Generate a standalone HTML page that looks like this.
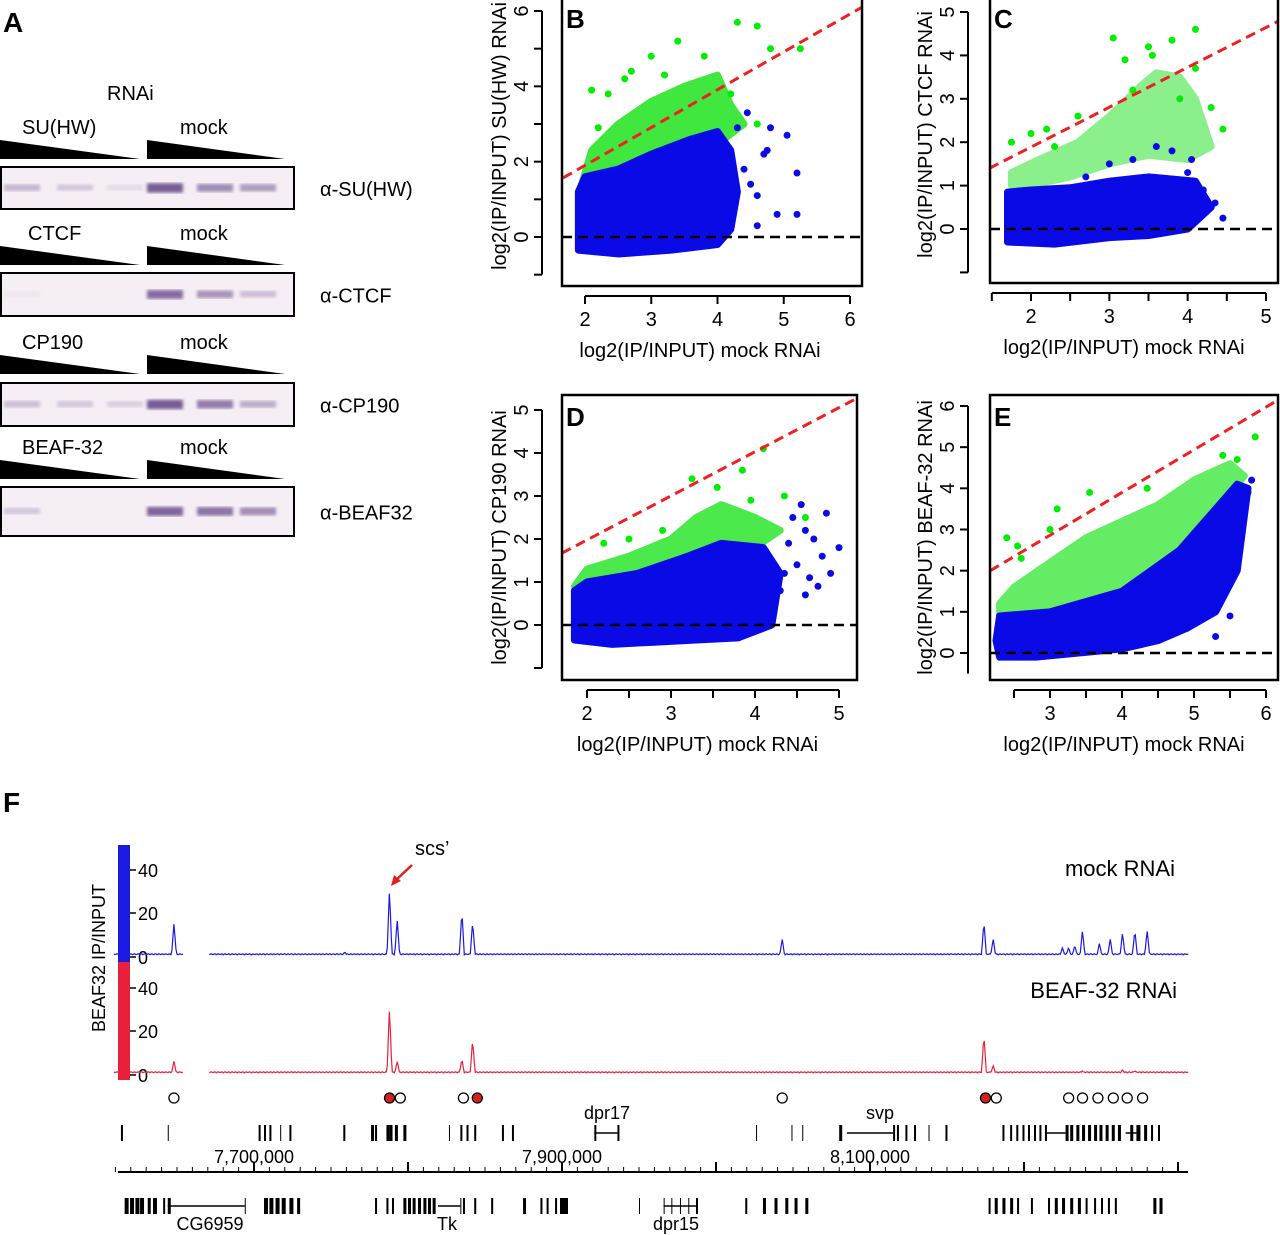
<!DOCTYPE html>
<html><head><meta charset="utf-8"><style>
body{margin:0;background:#fff;}
svg{display:block;font-family:"Liberation Sans",Arial,sans-serif;}
text{fill:#000;}
</style></head><body>
<svg id="fig" width="1280" height="1235" viewBox="0 0 1280 1235" xmlns="http://www.w3.org/2000/svg">
<defs>
<filter id="blur1"><feGaussianBlur stdDeviation="1.6"/></filter>
</defs>
<g>
<text x="3" y="32" font-size="28" font-weight="bold">A</text>
<text x="107" y="100" font-size="20">RNAi</text>
</g>
<g id="blots"></g>
<text x="3" y="812" font-size="28" font-weight="bold">F</text>
<g id="plots"></g>
<g id="tracks"></g>
</svg>
<script>
// ---------- Panel A blot data ----------
const blotNames = ['SU(HW)','CTCF','CP190','BEAF-32'];
const blotAntibodies = ['α-SU(HW)','α-CTCF','α-CP190','α-BEAF32'];
const blotIntensity = [[0.35,0.25,0.12,0.9,0.6,0.5],[0.05,0,0,0.8,0.55,0.3],[0.3,0.25,0.2,0.9,0.7,0.4],[0.25,0,0,0.85,0.75,0.6]];

// ---------- Scatter data (envelopes, data units) ----------
const bBlueX=[1.9,2.5,3.3,4.0,4.2,4.3,4.2,4.0,3.6,3.0,2.5,2.0,1.9];
const bBlueY=[-0.35,-0.45,-0.35,-0.2,0.2,1.2,2.3,2.8,2.6,2.2,1.8,1.6,1.2];
const bGreenX=[1.95,2.1,2.5,3.0,3.5,4.0,4.2,4.4,4.1,3.5,3.0,2.5,1.95];
const bGreenY=[1.4,2.3,3.0,3.6,4.0,4.3,3.5,3.0,2.6,2.4,2.1,1.7,1.4];
const bOutX=[4.45,4.8,5.05,5.2,4.9,4.6,4.75,4.3,4.6,5.2,4.4,4.7,4.5];
const bOutY=[3.3,2.9,2.7,1.7,0.6,1.1,2.3,2.9,0.3,0.6,1.8,2.2,1.4];
const bGOutX=[2.1,2.35,2.6,2.2,3.0,3.4,4.3,4.6,4.8,5.25,3.8,2.7,4.6,4.2,3.2];
const bGOutY=[3.9,3.8,4.2,2.9,4.8,5.2,5.7,5.6,5.0,5.0,4.8,4.4,3.0,3.8,4.3];

const cBlueX=[1.7,2.3,3.0,3.5,4.0,4.3,4.1,3.5,3.0,2.5,2.0,1.7];
const cBlueY=[-0.3,-0.35,-0.2,-0.15,0.0,0.5,1.1,1.2,1.1,0.95,0.9,0.85];
const cGreenX=[1.75,2.1,2.6,3.0,3.4,3.6,3.9,4.1,4.3,4.0,3.5,3.0,2.5,2.0,1.75];
const cGreenY=[1.3,1.6,2.0,2.6,3.3,3.6,3.5,3.0,1.9,1.6,1.7,1.5,1.2,1.0,1.0];
const cOutX=[4.45,4.05,3.8,3.6,3.3,3.0,2.7,2.3,4.35,3.9,4.2,4.0];
const cOutY=[0.25,1.6,1.8,1.9,1.6,1.5,1.2,0.9,0.6,1.0,0.9,1.3];
const cGOutX=[3.05,3.5,3.8,4.1,4.3,1.75,2.2,2.6,3.3,3.9,4.45,3.2,3.55,2.0,2.3,4.1];
const cGOutY=[4.4,4.2,4.35,4.6,2.8,2.0,2.3,2.6,3.2,3.0,2.3,3.9,4.0,2.2,1.9,3.7];

const dBlueX=[1.85,2.3,2.8,3.3,3.8,4.2,4.3,4.1,3.6,3.2,2.6,2.0,1.85];
const dBlueY=[-0.35,-0.45,-0.4,-0.35,-0.3,0.0,1.2,1.8,1.9,1.6,1.2,1.0,0.8];
const dGreenX=[1.85,2.0,2.5,3.0,3.3,3.6,4.0,4.3,4.0,3.6,3.2,2.6,2.0,1.85];
const dGreenY=[0.9,1.3,1.6,2.0,2.5,2.8,2.5,2.2,1.8,1.9,1.6,1.2,1.0,0.9];
const dOutX=[4.45,4.6,4.7,4.8,4.9,4.4,4.6,4.3,4.75,4.5,4.65,4.85,5.0,4.35,4.55];
const dOutY=[2.5,2.2,2.0,1.6,1.2,1.9,0.7,0.8,0.9,1.4,1.1,2.6,1.8,1.2,2.8];
const dGOutX=[3.25,3.55,3.95,4.1,4.35,3.85,2.2,2.5,2.9,4.6];
const dGOutY=[3.4,3.2,2.9,4.1,3.0,3.6,1.9,2.0,2.2,2.5];

const eBlueX=[2.3,2.8,3.4,4.0,4.5,4.9,5.3,5.6,5.75,5.6,5.3,4.8,4.0,3.0,2.3,2.25];
const eBlueY=[-0.1,-0.1,0.0,0.1,0.3,0.6,1.0,2.0,4.0,4.1,3.5,2.5,1.5,1.0,0.9,0.3];
const eGreenX=[2.3,2.5,3.0,3.5,4.0,4.5,5.0,5.5,5.7,5.6,5.3,4.8,4.0,3.0,2.3];
const eGreenY=[1.2,1.6,2.2,2.8,3.2,3.6,4.2,4.6,4.3,4.1,3.5,2.5,1.5,1.0,0.9];
const eOutX=[5.3,4.9,5.0,5.8,5.75,5.5];
const eOutY=[0.4,0.6,0.9,4.2,3.9,0.9];
const eGOutX=[2.4,2.55,3.1,3.55,4.35,5.4,5.6,5.85,2.6,3.0];
const eGOutY=[2.8,2.6,3.5,3.9,4.0,4.8,4.7,5.25,2.3,3.0];

const panels=[
 {id:'b',label:'B',box:[562,-2,862,286],x0:2,x1:6,px0:585,px1:850,y0:0,y1:6,py0:237,py1:11,xt:[2,3,4,5,6],yt:[0,2,4,6],ym:[-1,1,3,5],
  ref:[[1.67,1.57],[6.2,6.12]],ytitle:'log2(IP/INPUT) SU(HW) RNAi',blue:[bBlueX,bBlueY],green:[bGreenX,bGreenY],out:[bOutX,bOutY],gout:[bGOutX,bGOutY],gop:0.75,axisX:542,yrange:[-1,6]},
 {id:'c',label:'C',box:[990,-2,1278,283],x0:2,x1:5,px0:1031,px1:1266,y0:0,y1:5,py0:229,py1:12,xt:[2,3,4,5],yt:[0,1,2,3,4,5],ym:[-1],xm:[1.5,2.5,3.5,4.5],
  ref:[[1.47,1.4],[5.17,4.8]],ytitle:'log2(IP/INPUT) CTCF RNAi',blue:[cBlueX,cBlueY],green:[cGreenX,cGreenY],out:[cOutX,cOutY],gout:[cGOutX,cGOutY],gop:0.45,axisX:968,yrange:[-1,5]},
 {id:'d',label:'D',box:[562,395,857,680],x0:2,x1:5,px0:587,px1:839,y0:0,y1:5,py0:625,py1:410,xt:[2,3,4,5],yt:[0,1,2,3,4,5],ym:[-1],xm:[2.5,3.5,4.5],
  ref:[[1.7,1.67],[5.22,5.28]],ytitle:'log2(IP/INPUT) CP190 RNAi',blue:[dBlueX,dBlueY],green:[dGreenX,dGreenY],out:[dOutX,dOutY],gout:[dGOutX,dGOutY],gop:0.7,axisX:542,yrange:[-1,5]},
 {id:'e',label:'E',box:[990,395,1278,680],x0:3,x1:6,px0:1050,px1:1266,y0:0,y1:6,py0:653,py1:406,xt:[3,4,5,6],yt:[0,1,2,3,4,5,6],ym:[],xm:[2.5,3.5,4.5,5.5],
  ref:[[2.17,2.0],[6.17,6.15]],ytitle:'log2(IP/INPUT) BEAF-32 RNAi',blue:[eBlueX,eBlueY],green:[eGreenX,eGreenY],out:[eOutX,eOutY],gout:[eGOutX,eGOutY],gop:0.6,axisX:968,yrange:[-0.5,6]}
];

// ---------- Track data (kb positions, heights) ----------
const mockPeakKb=[7648,7759,7788,7793,7835,7842,8043,8174,8180,8225,8229,8233,8238,8249,8256,8264,8272,8280];
const mockPeakH=[15,2,31,17,21,16,8,16,8,4,4,5,12,6,8,11,12,12];
const beafPeakKb=[7648,7788,7793,7835,7842,8174,8180,8238,8264,8272];
const beafPeakH=[6,31,6,7,16,18,4,1.5,2,1.5];
const siteKb=[7648,7788,7795,7836,7845,8043,8175,8182,8229,8238,8248,8258,8267,8277];
const siteRed=[0,1,0,0,1,0,1,0,0,0,0,0,0,0];
const geneTopKb=[7613.6,7644,7703,7706.5,7710,7717,7723,7758,7776,7778.6,7786,7788,7791.5,7797,7826.6,7834,7838,7843,7861,7867.5,7921,7936,8026,8049,8056,8080,8115,8117.5,8123,8128.6,8138,8149,8186,8191,8195,8199,8202.6,8206.5,8210,8213.6,8227,8230,8234,8237.7,8241.6,8245.5,8249,8253,8257,8261,8269,8273,8278,8282.5,8287];
const geneTopW=[2,1,2,2,2,1,2,2,3,2,3,3,3,3,1,2,2,2,2,2,2,2,1,1,1,3,2,2,2,2,1,2,2,2,2,2,2,2,2,2,3,3,3,3,3,3,3,3,3,3,3,4,3,2,2];
const geneTopLines=[[7921,7936],[8085,8115],[8213.6,8227],[8266,8273]];
const geneBotKb=[7616,7619.5,7623,7626,7631,7634.4,7641,7644,7694,7706.5,7710,7714,7718,7723,7728,7778.6,7786,7789.6,7797,7800,7803,7806.5,7810,7813,7816,7834,7835.7,7843,7854,7874.7,7886,7890,7895.5,7898.7,7950,7966,7971,7976.6,7982,7987,8019,8030.5,8038,8045,8051,8058,8177,8181,8186,8191,8195.5,8204.5,8215.6,8220,8224.7,8230,8235,8240,8245.5,8250,8254.5,8259,8284,8288];
const geneBotW=[4,4,4,4,3,4,2,3,1,4,4,4,4,4,3,2,2,2,3,3,3,3,3,3,3,1,2,2,2,3,2,2,2,8,1,1,1,1,1,2,2,3,3,3,3,3,2,3,3,3,2,2,2,3,3,3,3,2,2,2,2,2,3,3];
const geneBotLines=[[7644,7694],[7819.5,7834],[7966,7987]];

const NS='http://www.w3.org/2000/svg';
const svg=document.getElementById('fig');
function mk(tag,attrs,parent,txt){const e=document.createElementNS(NS,tag);for(const k in attrs)e.setAttribute(k,attrs[k]);if(txt!==undefined)e.textContent=txt;(parent||svg).appendChild(e);return e;}

// ----- Blots -----
const blotsG=document.getElementById('blots');
const blotTop=[140,246,355,460];
const blotBox=[[167,209],[273,316],[383,426],[487,536]];
blotNames.forEach((nm,i)=>{
  const t=blotTop[i];
  let e=mk('text',{x:i==1?28:22,y:t-6,'font-size':20},blotsG,nm);
  
  
  e=mk('text',{x:180,y:t-6,'font-size':20},blotsG,'mock');
  
  
  e=mk('polygon',{points:`0,${t} 0,${t+19} 140,${t+19}`,fill:'#000'},blotsG);
  
  
  e=mk('polygon',{points:`147,${t} 147,${t+19} 285,${t+19}`,fill:'#000'},blotsG);
  
  
  const [y0,y1]=blotBox[i];
  e=mk('rect',{x:1,y:y0,width:293,height:y1-y0,fill:'#f6eef5',stroke:'#000','stroke-width':2},blotsG);
  
  
  const lanes=[22,75,125,165,215,258];
  blotIntensity[i].forEach((v,j)=>{
    if(v<=0)return;
    const b=mk('rect',{x:lanes[j]-18,y:(y0+y1)/2-3-v*2,width:36,height:5+v*5,fill:'#5a3a80',opacity:v*0.9,filter:'url(#blur1)'},blotsG);
    
    
  });
  e=mk('text',{x:320,y:(y0+y1)/2+8,'font-size':20},blotsG,blotAntibodies[i]);
  
  
});

// ----- Scatter plots -----
const plotsG=document.getElementById('plots');
panels.forEach(p=>{
  const g=mk('g',{},plotsG);
  
  
  const sx=v=>p.px0+(v-p.x0)*(p.px1-p.px0)/(p.x1-p.x0);
  const sy=v=>p.py0+(v-p.y0)*(p.py1-p.py0)/(p.y1-p.y0);
  const [bx0,by0,bx1,by1]=p.box;
  const clip=mk('clipPath',{id:'clip'+p.id},g);
  mk('rect',{x:bx0,y:by0,width:bx1-bx0,height:by1-by0},clip);
  const inner=mk('g',{'clip-path':`url(#clip${p.id})`},g);
  const poly=(xs,ys)=>xs.map((x,k)=>sx(x)+','+sy(ys[k])).join(' ');
  let e=mk('polygon',{points:poly(p.green[0],p.green[1]),fill:'#00e000',stroke:'#00e000','stroke-width':7,'stroke-linejoin':'round',opacity:p.gop},inner);
  
  
  p.gout[0].forEach((x,k)=>{const c=mk('circle',{cx:sx(x),cy:sy(p.gout[1][k]),r:3.5,fill:'#00ee00'},inner);
    
    });
  e=mk('polygon',{points:poly(p.blue[0],p.blue[1]),fill:'#0a0ae6',stroke:'#0a0ae6','stroke-width':7,'stroke-linejoin':'round'},inner);
  
  
  p.out[0].forEach((x,k)=>{
    const c=mk('circle',{cx:sx(x),cy:sy(p.out[1][k]),r:3.5,fill:'#0a0ae6'},inner);
    
    });
  e=mk('line',{x1:sx(p.ref[0][0]),y1:sy(p.ref[0][1]),x2:sx(p.ref[1][0]),y2:sy(p.ref[1][1]),stroke:'#f02020','stroke-width':3,'stroke-dasharray':'10,6'},inner);
  
  
  e=mk('line',{x1:bx0,y1:sy(0),x2:bx1,y2:sy(0),stroke:'#000','stroke-width':2.5,'stroke-dasharray':'10,6'},inner);
  
  
  e=mk('rect',{x:bx0,y:by0,width:bx1-bx0,height:by1-by0,fill:'none',stroke:'#000','stroke-width':2.5},g);
  
  
  e=mk('text',{x:bx0+4,y:by0+(by0<0?30:31),'font-size':26,'font-weight':'bold'},g,p.label);
  
  
  const ay=by1+10;
  const xall=p.xt.concat(p.xm||[]);
  e=mk('line',{x1:sx(Math.min(...xall)),y1:ay,x2:sx(Math.max(...xall)),y2:ay,stroke:'#000','stroke-width':2},g);
  
  
  xall.forEach(v=>{const t=mk('line',{x1:sx(v),y1:ay,x2:sx(v),y2:ay+8,stroke:'#000','stroke-width':2},g);
    
    });
  p.xt.forEach(v=>{const t=mk('text',{x:sx(v),y:ay+30,'font-size':20,'text-anchor':'middle'},g,String(v));
    
    });
  e=mk('text',{x:(bx0+bx1)/2+(p.id=='b'||p.id=='d'?-12:-10),y:ay+61,'font-size':20,'text-anchor':'middle'},g,'log2(IP/INPUT) mock RNAi');
  
  
  const ax=p.axisX;
  e=mk('line',{x1:ax,y1:sy(p.yrange[0]),x2:ax,y2:sy(p.yrange[1]),stroke:'#000','stroke-width':2},g);
  
  
  p.yt.concat(p.ym).forEach(v=>{const t=mk('line',{x1:ax-8,y1:sy(v),x2:ax,y2:sy(v),stroke:'#000','stroke-width':2},g);
    
    });
  p.yt.forEach(v=>{const t=mk('text',{x:0,y:0,'font-size':20,'text-anchor':'middle',transform:`translate(${ax-14},${sy(v)}) rotate(-90)`},g,String(v));
    
    });
  e=mk('text',{x:0,y:0,'font-size':20,'text-anchor':'middle',transform:`translate(${ax-36},${(by0+by1)/2+(by0<0?-6:0)}) rotate(-90)`},g,p.ytitle);
  
  
});

// ----- Tracks -----
const tg=document.getElementById('tracks');
const gx=kb=>254+(kb-7700)*1.54;
function track(kbs,hs,base,color,scale,name){
  const g=mk('g',{},tg);
  
  
  const segs=[[7609,7654],[7671,8307]];
  segs.forEach(([a,b])=>{
    let d='';
    for(let x=gx(a);x<=gx(b);x+=1){
      let h=0.5+0.5*Math.abs(Math.sin(x*0.9));
      kbs.forEach((k,i)=>{const dx=Math.abs(gx(k)-x);if(dx<2.5)h=Math.max(h,hs[i]*(1-dx/2.5));});
      d+=(d?'L':'M')+x.toFixed(1)+','+(base-h*scale).toFixed(1);
    }
    const pth=mk('path',{d,fill:'none',stroke:color,'stroke-width':1.2},g);
    
    
  });
}
let e;
e=mk('rect',{x:118,y:845,width:12,height:117,fill:'#1a1ae0'},tg);


e=mk('rect',{x:118,y:962,width:12,height:118,fill:'#e8203c'},tg);


[[870,'40'],[913,'20'],[957,'0'],[988,'40'],[1031,'20'],[1075,'0']].forEach(([y,s])=>{
  const t=mk('text',{x:138,y:y+7,'font-size':18},tg,s);
  
  
  const l=mk('line',{x1:130,y1:y,x2:136,y2:y,stroke:'#000','stroke-width':1.5},tg);
  
  
});
e=mk('text',{x:0,y:0,'font-size':18,'text-anchor':'middle',transform:'translate(105,958) rotate(-90)'},tg,'BEAF32 IP/INPUT');


track(mockPeakKb,mockPeakH,956,'#1a1ae0',2.17,'mock-track');
track(beafPeakKb,beafPeakH,1074,'#e8203c',2.17,'beaf-track');
e=mk('text',{x:1175,y:876,'font-size':22,'text-anchor':'end'},tg,'mock RNAi');


e=mk('text',{x:1177,y:998,'font-size':22,'text-anchor':'end'},tg,'BEAF-32 RNAi');


e=mk('text',{x:415,y:855,'font-size':20},tg,'scs’');


e=mk('line',{x1:412,y1:865,x2:396,y2:880,stroke:'#e02020','stroke-width':2.5},tg);


e=mk('polygon',{points:'391,886 394,875 401,881',fill:'#e02020'},tg);


siteKb.forEach((k,i)=>{const c=mk('circle',{cx:gx(k),cy:1098,r:5,fill:siteRed[i]?'#d42020':'#fff',stroke:'#000','stroke-width':1.3},tg);
  
  });
function genes(kbs,ws,lines,y,name){
  kbs.forEach((k,i)=>{const r=mk('rect',{x:gx(k),y:y,width:ws[i],height:16,fill:'#000'},tg);
    
    });
  lines.forEach(([a,b])=>{const l=mk('line',{x1:gx(a),y1:y+8,x2:gx(b),y2:y+8,stroke:'#000','stroke-width':1.5},tg);
    
    });
}
genes(geneTopKb,geneTopW,geneTopLines,1125,'gene-top');
genes(geneBotKb,geneBotW,geneBotLines,1198,'gene-bottom');
[['dpr17',607,1119],['svp',880,1119],['CG6959',210,1230],['Tk',447,1230],['dpr15',676,1230]].forEach(([s,x,y])=>{
  const t=mk('text',{x,y,'font-size':18,'text-anchor':'middle'},tg,s);
  
  });
e=mk('line',{x1:118,y1:1172,x2:1188,y2:1172,stroke:'#000','stroke-width':2},tg);


for(let kb=7610;kb<=8300;kb+=10){
  const major=(kb%100===0);
  const t=mk('line',{x1:gx(kb),y1:1172,x2:gx(kb),y2:major?1162:1167,stroke:'#000','stroke-width':major?2:1},tg);
  
  
}
const coordLabels=['7,700,000','7,900,000','8,100,000'];
const coordKb=[7700,7900,8100];
coordLabels.forEach((s,i)=>{const t=mk('text',{x:gx(coordKb[i]),y:1163,'font-size':18,'text-anchor':'middle'},tg,s);
  
  });
</script>
</body></html>
